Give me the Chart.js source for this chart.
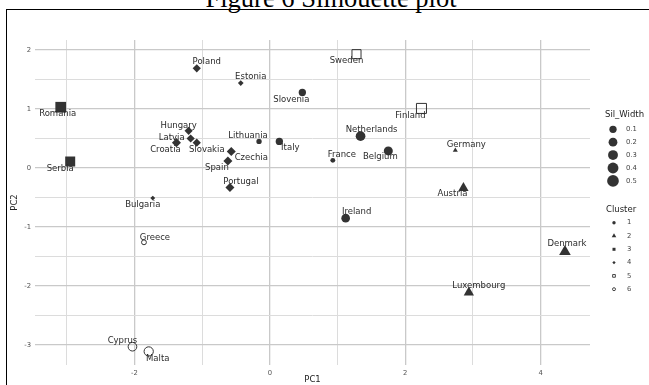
<!DOCTYPE html>
<html>
<head>
<meta charset="utf-8">
<script src="https://cdn.jsdelivr.net/npm/chart.js@4/dist/chart.umd.min.js"></script>
<style>
  html, body { margin: 0; padding: 0; background: #fff; }
  #wrap { position: relative; width: 649px; height: 385px; overflow: hidden; }
  #title {
    position: absolute; left: 0; width: 662px; top: -15px;
    text-align: center; white-space: nowrap; color: #000;
    font-family: "Liberation Serif", "Times New Roman", serif;
    font-size: 26.5px; line-height: 26.5px;
  }
  #frame {
    position: absolute; left: 6px; top: 9px; width: 700px; height: 400px;
    border-left: 1.5px solid #000; border-top: 1.5px solid #000;
  }
  canvas { position: absolute; left: 0; top: 0; }
</style>
</head>
<body>
<div id="wrap">
  <div id="title">Figure 6 Silhouette plot</div>
  <div id="frame"></div>
  <canvas id="c" width="649" height="385"></canvas>
</div>
<script>
// Principal component scores, silhouette widths and cluster membership
const countries = ["Poland", "Estonia", "Sweden", "Slovenia", "Romania", "Serbia", "Finland",
  "Hungary", "Latvia", "Slovakia", "Croatia", "Lithuania", "Italy", "Czechia", "Spain",
  "Portugal", "Netherlands", "France", "Belgium", "Germany", "Austria", "Bulgaria",
  "Greece", "Cyprus", "Malta", "Ireland", "Denmark", "Luxembourg"];
const pc1 = [-1.08, -0.43, 1.28, 0.48, -3.09, -2.95, 2.24,
  -1.20, -1.17, -1.08, -1.38, -0.16, 0.14, -0.57, -0.62,
  -0.59, 1.34, 0.93, 1.75, 2.74, 2.86, -1.73,
  -1.86, -2.03, -1.79, 1.12, 4.36, 2.94];
const pc2 = [1.69, 1.44, 1.93, 1.28, 1.03, 0.11, 1.01,
  0.63, 0.50, 0.43, 0.43, 0.45, 0.45, 0.28, 0.12,
  -0.33, 0.54, 0.13, 0.29, 0.30, -0.34, -0.51,
  -1.26, -3.03, -3.11, -0.85, -1.42, -2.11];
const silWidth = [0.16, 0.03, 0.33, 0.10, 0.55, 0.45, 0.45,
  0.16, 0.16, 0.16, 0.22, 0.02, 0.10, 0.22, 0.22,
  0.22, 0.28, 0.01, 0.22, 0.00, 0.12, 0.01,
  0.01, 0.19, 0.24, 0.19, 0.19, 0.12];
const cluster = [4, 4, 5, 1, 3, 3, 5,
  4, 4, 4, 4, 1, 1, 4, 4,
  4, 1, 1, 1, 2, 2, 4,
  6, 6, 6, 1, 2, 2];

const clusterIds = [1, 2, 3, 4, 5, 6];
const sizeBreaks = [0.1, 0.2, 0.3, 0.4, 0.5];
const xTicks = [-3, -2, -1, 0, 1, 2, 3, 4];
const xLabelled = [-2, 0, 2, 4];
const yTicks = [-3, -2.5, -2, -1.5, -1, -0.5, 0, 0.5, 1, 1.5, 2];
const yLabelled = [-3, -2, -1, 0, 1, 2];

// Marker look for each cluster
const INK = '#333333';
const shapeOf = { 1: 'circle', 2: 'triangle', 3: 'rect', 4: 'rectRot', 5: 'rect', 6: 'circle' };
const hollow = { 5: true, 6: true };
// equal-area scaling of the non-circular markers
const shapeScale = { circle: 1, triangle: 1.555, rect: 1.253, rectRot: 1 };
function sizeRadius(w) { return 1.87 + 5.63 * Math.sqrt(Math.max(w, 0)); }

// Text placement of each country name relative to its marker (px)
const labelNudge = {
  Poland: [10, -7], Estonia: [10, -6], Sweden: [-10, 7], Slovenia: [-11, 7],
  Romania: [-3, 7], Serbia: [-10, 7], Finland: [-11, 7], Hungary: [-10, -5],
  Latvia: [-19, -1], Croatia: [-11, 7], Slovakia: [10, 7], Lithuania: [-11, -6],
  Italy: [11, 6], Czechia: [20, 6], Spain: [-11, 7], Portugal: [11, -6],
  Netherlands: [11, -6], France: [9, -6], Belgium: [-8, 6], Germany: [11, -6],
  Austria: [-11, 6], Bulgaria: [-10, 7], Greece: [11, -5], Cyprus: [-10, -6],
  Malta: [9, 7], Ireland: [11, -6], Denmark: [2, -8], Luxembourg: [10, -7]
};

const datasets = clusterIds.map(c => {
  const shape = shapeOf[c];
  const pts = [];
  countries.forEach((name, i) => {
    if (cluster[i] === c) pts.push({ x: pc1[i], y: pc2[i], name: name, w: silWidth[i] });
  });
  const rad = ctx => sizeRadius(ctx.raw ? ctx.raw.w : 0) * shapeScale[shape];
  return {
    label: String(c),
    data: pts,
    pointStyle: shape,
    pointRadius: rad,
    pointHoverRadius: rad,
    backgroundColor: hollow[c] ? 'rgba(0,0,0,0)' : INK,
    borderColor: INK,
    borderWidth: hollow[c] ? 1 : 0,
    showLine: false
  };
});

function drawMarker(ctx, style, r, x, y, open) {
  ctx.save();
  ctx.fillStyle = open ? 'rgba(0,0,0,0)' : INK;
  ctx.strokeStyle = INK;
  ctx.lineWidth = open ? 0.9 : 0;
  if (Chart.helpers && Chart.helpers.drawPoint) {
    Chart.helpers.drawPoint(ctx, { pointStyle: style, radius: r, rotation: 0, borderWidth: open ? 0.9 : 0 }, x, y);
  } else {
    ctx.beginPath(); ctx.arc(x, y, r, 0, Math.PI * 2); ctx.fill(); if (open) ctx.stroke();
  }
  ctx.restore();
}

const pointLabels = {
  id: 'pointLabels',
  afterDatasetsDraw(chart) {
    const ctx = chart.ctx;
    ctx.save();
    ctx.font = '8.5px "DejaVu Sans"';
    ctx.fillStyle = '#2b2b2b';
    ctx.textAlign = 'center';
    ctx.textBaseline = 'middle';
    chart.data.datasets.forEach((ds, di) => {
      chart.getDatasetMeta(di).data.forEach((el, j) => {
        const name = ds.data[j].name;
        const nd = labelNudge[name] || [0, 0];
        ctx.fillText(name, el.x + nd[0], el.y + nd[1]);
      });
    });
    ctx.restore();
  }
};

// Two-part legend: marker size (Sil_Width) and marker shape (Cluster)
const sideLegend = {
  id: 'sideLegend',
  afterDraw(chart) {
    const ctx = chart.ctx;
    const x0 = chart.chartArea.right + 15;
    const sx = x0 + 8, tx = x0 + 21;
    ctx.save();
    ctx.textAlign = 'left';
    ctx.textBaseline = 'middle';
    ctx.fillStyle = '#222';
    ctx.font = '8.5px "DejaVu Sans"';
    ctx.fillText('Sil_Width', x0, 115);
    ctx.fillText('Cluster', x0 + 1, 209.5);
    ctx.font = '6.8px "DejaVu Sans"';
    ctx.fillStyle = '#444';
    sizeBreaks.forEach((b, k) => {
      const y = 129.3 + k * 12.9;
      drawMarker(ctx, 'circle', sizeRadius(b), sx, y, false);
      ctx.fillText(b.toFixed(1), tx, y);
    });
    clusterIds.forEach((c, k) => {
      const y = 222.7 + k * 13.3;
      const shape = shapeOf[c];
      drawMarker(ctx, shape, 1.7 * shapeScale[shape] - (hollow[c] ? 0.2 : 0), sx + 1, y, !!hollow[c]);
      ctx.fillText(String(c), tx + 1, y);
    });
    ctx.restore();
  }
};

const gridColor = (major) => major ? '#c9c9c9' : '#dcdcdc';

new Chart(document.getElementById('c'), {
  type: 'scatter',
  data: { datasets },
  options: {
    responsive: false,
    animation: false,
    events: [],
    layout: { padding: { top: 40, right: 59, left: 0, bottom: 0 } },
    plugins: { legend: { display: false }, tooltip: { enabled: false } },
    scales: {
      x: {
        type: 'linear', min: -3.47, max: 4.73,
        afterBuildTicks: s => { s.ticks = xTicks.map(v => ({ value: v })); },
        afterFit: s => { s.height = 20; },
        grid: {
          drawTicks: false,
          color: c => gridColor(c.tick && xLabelled.includes(c.tick.value)),
          lineWidth: c => (c.tick && xLabelled.includes(c.tick.value)) ? 1.3 : 1
        },
        border: { display: false },
        ticks: {
          padding: 4, maxRotation: 0, autoSkip: false,
          font: { family: 'DejaVu Sans', size: 6.8 }, color: '#555',
          callback: v => xLabelled.includes(v) ? String(v) : ''
        },
        title: {
          display: true, text: 'PC1', color: '#222',
          font: { family: 'DejaVu Sans', size: 8.5 }, padding: { top: 0, bottom: 0 }
        }
      },
      y: {
        type: 'linear', min: -3.34, max: 2.17,
        afterBuildTicks: s => { s.ticks = yTicks.map(v => ({ value: v })); },
        afterFit: s => { s.width = 35; },
        grid: {
          drawTicks: false,
          color: c => gridColor(c.tick && yLabelled.includes(c.tick.value)),
          lineWidth: c => (c.tick && yLabelled.includes(c.tick.value)) ? 1.3 : 1
        },
        border: { display: false },
        ticks: {
          padding: 4, autoSkip: false,
          font: { family: 'DejaVu Sans', size: 6.8 }, color: '#555',
          callback: v => yLabelled.includes(v) ? String(v) : ''
        },
        title: {
          display: true, text: 'PC2', color: '#222',
          font: { family: 'DejaVu Sans', size: 8.5 }, padding: { top: 10, bottom: 0 }
        }
      }
    }
  },
  plugins: [pointLabels, sideLegend]
});
</script>
</body>
</html>
